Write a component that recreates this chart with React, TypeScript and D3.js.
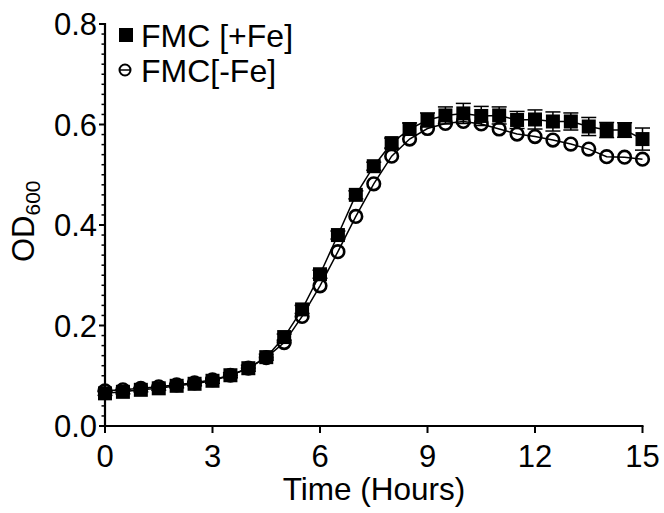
import React from "react";
import * as d3 from "d3";

const times = [0, 0.5, 1, 1.5, 2, 2.5, 3, 3.5, 4, 4.5, 5, 5.5, 6, 6.5, 7, 7.5, 8, 8.5, 9, 9.5, 10, 10.5, 11, 11.5, 12, 12.5, 13, 13.5, 14, 14.5, 15];
const plusFe = [0.065, 0.068, 0.072, 0.075, 0.080, 0.084, 0.090, 0.101, 0.115, 0.137, 0.177, 0.232, 0.302, 0.380, 0.460, 0.517, 0.563, 0.591, 0.609, 0.618, 0.622, 0.617, 0.618, 0.609, 0.610, 0.606, 0.606, 0.596, 0.589, 0.589, 0.571];
const plusFeErr = [0.004, 0.004, 0.004, 0.004, 0.004, 0.004, 0.005, 0.005, 0.006, 0.006, 0.006, 0.008, 0.008, 0.008, 0.008, 0.008, 0.010, 0.012, 0.014, 0.017, 0.020, 0.019, 0.017, 0.017, 0.019, 0.019, 0.017, 0.018, 0.015, 0.0145, 0.022];
const minusFe = [0.070, 0.072, 0.075, 0.078, 0.082, 0.086, 0.092, 0.101, 0.115, 0.136, 0.166, 0.218, 0.279, 0.347, 0.417, 0.482, 0.537, 0.571, 0.592, 0.602, 0.606, 0.601, 0.591, 0.581, 0.576, 0.569, 0.561, 0.551, 0.536, 0.535, 0.531];
const xTicks = [0, 3, 6, 9, 12, 15];
const yTicks = [0, 0.2, 0.4, 0.6, 0.8];
const yMinorTicks = [0.02, 0.04, 0.06, 0.08, 0.1, 0.12, 0.14, 0.16, 0.18, 0.22, 0.24, 0.26, 0.28, 0.3, 0.32, 0.34, 0.36, 0.38, 0.42, 0.44, 0.46, 0.48, 0.5, 0.52, 0.54, 0.56, 0.58, 0.62, 0.64, 0.66, 0.68, 0.7, 0.72, 0.74, 0.76, 0.78];
const seriesNames = ["FMC [+Fe]", "FMC[-Fe]"];

const FONT = "'Liberation Sans', Arial, Helvetica, sans-serif";

export default function App() {
  const x = d3.scaleLinear().domain([0, 15]).range([105, 642.5]);
  const y = d3.scaleLinear().domain([0, 0.8]).range([426, 24]);
  const line = d3.line<number>().x((_, i) => x(times[i])).y((d) => y(d));
  const sq = 14;
  const cap = 7.5;

  return (
    <svg width={664} height={513} style={{ position: "absolute", left: 0, top: 0, background: "#fff" }} fontFamily={FONT}>
      <rect width={664} height={513} fill="#fff" />
      {/* lines */}
      <path d={line(plusFe) || ""} fill="none" stroke="#000" strokeWidth={1.5} />
      <path d={line(minusFe) || ""} fill="none" stroke="#000" strokeWidth={1.5} />
      {/* error bars */}
      {plusFe.map((v, i) => (
        <g key={"e" + i} stroke="#000" strokeWidth={1.5}>
          <line x1={x(times[i])} x2={x(times[i])} y1={y(v - plusFeErr[i])} y2={y(v + plusFeErr[i])} />
          <line x1={x(times[i]) - cap} x2={x(times[i]) + cap} y1={y(v + plusFeErr[i])} y2={y(v + plusFeErr[i])} />
          <line x1={x(times[i]) - cap} x2={x(times[i]) + cap} y1={y(v - plusFeErr[i])} y2={y(v - plusFeErr[i])} />
        </g>
      ))}
      {/* squares */}
      {plusFe.map((v, i) => (
        <rect key={"s" + i} x={x(times[i]) - sq / 2} y={y(v) - sq / 2} width={sq} height={sq} fill="#000" />
      ))}
      {/* circles */}
      {minusFe.map((v, i) => (
        <circle key={"c" + i} cx={x(times[i])} cy={y(v)} r={6.3} fill="none" stroke="#000" strokeWidth={2.6} />
      ))}
      {/* axes */}
      <line x1={105} x2={105} y1={23} y2={427} stroke="#000" strokeWidth={2.2} />
      <line x1={104} x2={643.5} y1={426} y2={426} stroke="#000" strokeWidth={2.2} />
      {yTicks.map((t) => (
        <g key={"yt" + t}>
          <line x1={99} x2={105} y1={y(t)} y2={y(t)} stroke="#000" strokeWidth={2} />
          <text x={97} y={y(t)} dy="0.36em" textAnchor="end" fontSize={31} fill="#000">{t.toFixed(1)}</text>
        </g>
      ))}
      {yMinorTicks.map((t) => (
        <line key={"ym" + t} x1={101.5} x2={105} y1={y(t)} y2={y(t)} stroke="#000" strokeWidth={1.5} />
      ))}
      {xTicks.map((t) => (
        <g key={"xt" + t}>
          <line x1={x(t)} x2={x(t)} y1={426} y2={433} stroke="#000" strokeWidth={2} />
          <text x={x(t)} y={467} textAnchor="middle" fontSize={31} fill="#000">{t}</text>
        </g>
      ))}
      {/* axis titles */}
      <text x={374} y={500} textAnchor="middle" fontSize={31.5} fill="#000">Time (Hours)</text>
      <text transform="translate(34,262) rotate(-90)" fontSize={31} fill="#000">
        OD<tspan fontSize={21} dy={6}>600</tspan>
      </text>
      {/* legend */}
      <rect x={119} y={28} width={14} height={14} fill="#000" />
      <text x={141} y={47} fontSize={32} fill="#000">{seriesNames[0]}</text>
      <circle cx={125} cy={70} r={5.5} fill="none" stroke="#000" strokeWidth={2} />
      <line x1={119.5} x2={130.5} y1={70} y2={70} stroke="#000" strokeWidth={1.5} />
      <text x={141} y={82} fontSize={32} fill="#000">{seriesNames[1]}</text>
    </svg>
  );
}
